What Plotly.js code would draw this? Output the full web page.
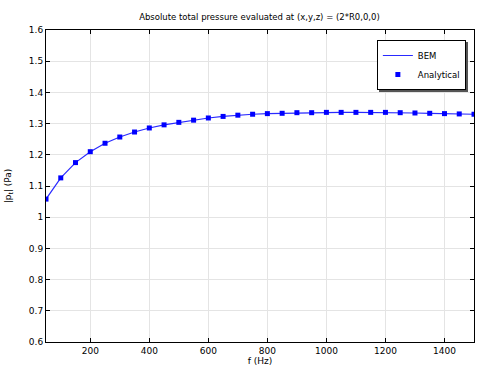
<!DOCTYPE html>
<html><head><meta charset="utf-8">
<script src="https://cdn.plot.ly/plotly-3.0.1.min.js"></script>
<style>html,body{margin:0;padding:0;background:#fff}#chart{width:485px;height:369px}
.legend .bg{filter:drop-shadow(2px 2px 0px #555)}</style>
</head><body><div id="chart"></div>
<script>
const freq = [50,100,150,200,250,300,350,400,450,500,550,600,650,700,750,800,850,900,950,1000,1050,1100,1150,1200,1250,1300,1350,1400,1450,1500];
const bem = [1.058,1.126,1.175,1.210,1.237,1.257,1.273,1.286,1.296,1.304,1.311,1.318,1.323,1.327,1.330,1.332,1.333,1.335,1.335,1.336,1.336,1.336,1.336,1.336,1.335,1.334,1.333,1.332,1.331,1.330];
const analytical = [1.058,1.126,1.175,1.210,1.237,1.257,1.273,1.286,1.296,1.304,1.311,1.318,1.323,1.327,1.330,1.332,1.333,1.335,1.335,1.336,1.336,1.336,1.336,1.336,1.335,1.334,1.333,1.332,1.331,1.330];
const xTicks = [200,400,600,800,1000,1200,1400];
const yTicks = [0.6,0.7,0.8,0.9,1,1.1,1.2,1.3,1.4,1.5,1.6];

const font = {family: 'DejaVu Sans, sans-serif', size: 9, color: '#000'};
const traces = [
  {x: freq, y: bem, type: 'scatter', mode: 'lines', name: 'BEM',
   line: {color: '#2a2aff', width: 1.2}},
  {x: freq, y: analytical, type: 'scatter', mode: 'markers', name: 'Analytical',
   marker: {color: '#0000ff', symbol: 'square', size: 5}}
];
const axisCommon = {
  showline: true, linecolor: '#000', linewidth: 1, mirror: 'ticks',
  ticks: 'inside', ticklen: 4, tickcolor: '#000', tickwidth: 1,
  showgrid: true, gridcolor: '#e4e4e4', gridwidth: 1, zeroline: false,
  tickfont: font
};
const layout = {
  width: 485, height: 369,
  margin: {l: 46, r: 11, t: 30, b: 27},
  paper_bgcolor: '#fff', plot_bgcolor: '#fff',
  font: font,
  title: {text: 'Absolute total pressure evaluated at (x,y,z) = (2*R0,0,0)', font: {family: 'DejaVu Sans, sans-serif', size: 8.5, color: '#000'}, x: 0.535, xanchor: 'center', y: 0.955, yanchor: 'middle'},
  xaxis: Object.assign({}, axisCommon, {range: [50, 1500], tickvals: xTicks, ticktext: xTicks.map(String),
    title: {text: 'f (Hz)', font: font, standoff: 0}}),
  yaxis: Object.assign({}, axisCommon, {range: [0.6, 1.6], tickvals: yTicks, ticktext: yTicks.map(v => String(v)),
    title: {text: '|p<sub>t</sub>| (Pa)', font: font, standoff: 15}}),
  legend: {x: 0.981, y: 0.968, xanchor: 'right', yanchor: 'top', bgcolor: '#fff', bordercolor: '#000', borderwidth: 1,
    font: {family: 'DejaVu Sans, sans-serif', size: 8.5, color: '#000'}, itemwidth: 30, tracegroupgap: 0},
  showlegend: true
};
Plotly.newPlot('chart', traces, layout, {displayModeBar: false, staticPlot: true});
</script></body></html>
